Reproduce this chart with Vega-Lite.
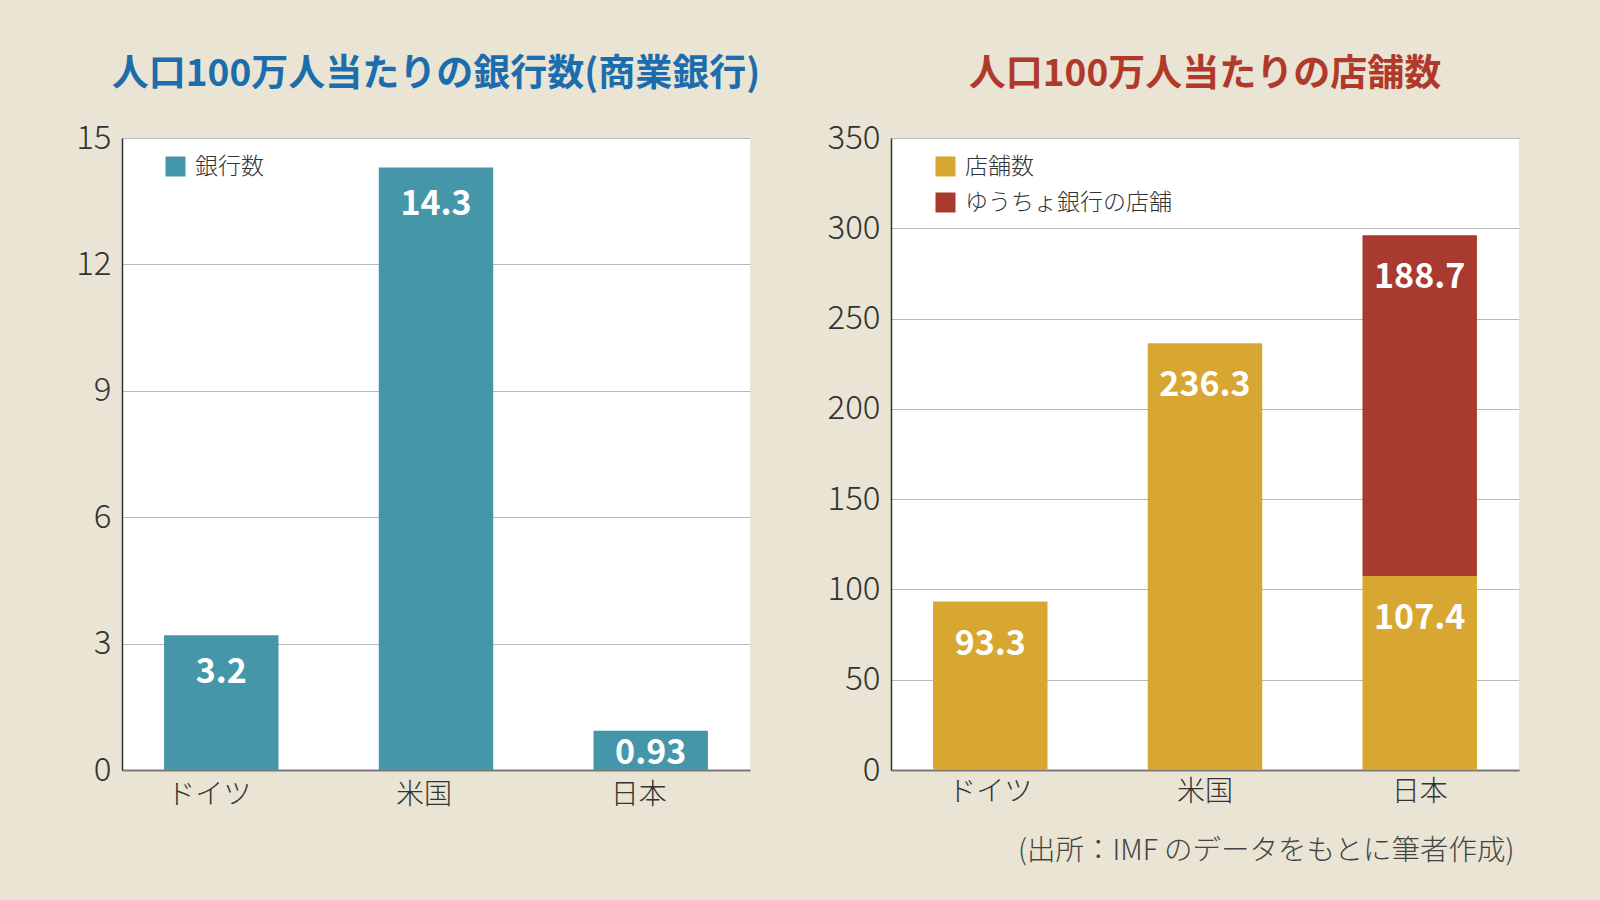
{
  "$schema": "https://vega.github.io/schema/vega-lite/v6.json",
  "autosize": {"type": "none"},
  "padding": {"left": 122, "top": 138, "right": 1478, "bottom": 762},
  "background": "#e9e4d3",
  "spacing": 141,
  "bounds": "flush",
  "resolve": {"scale": {"color": "independent", "y": "independent", "x": "independent"}, "legend": {"color": "independent"}},
  "config": {
    "font": "Noto Sans CJK JP",
    "view": {"fill": "#ffffff", "stroke": null},
    "axisY": {"grid": true, "gridColor": "#b8b8b8", "gridWidth": 1, "domainColor": "#333333", "domainWidth": 1.5, "ticks": false, "labelFontSize": 33, "labelFontWeight": 300, "labelColor": "#333333", "labelPadding": 11, "title": null, "labelFont": "Noto Sans CJK JP"},
    "axisX": {"grid": false, "ticks": false, "domainColor": "#7a7a7a", "domainWidth": 2, "labelFontSize": 28, "labelFontWeight": 300, "labelColor": "#333333", "labelPadding": 8, "labelAngle": 0, "labelFont": "Noto Sans CJK JP"},
    "legend": {"orient": "none", "title": null, "symbolType": "square", "symbolSize": 400, "symbolStrokeWidth": 0, "labelFontSize": 23, "labelFontWeight": 300, "labelColor": "#333333", "labelFont": "Noto Sans CJK JP", "labelLimit": 400, "rowPadding": 12, "labelOffset": 8},
    "title": {"font": "Noto Sans CJK JP", "fontWeight": "bold", "fontSize": 37, "anchor": "middle", "offset": 28}
  },
  "hconcat": [
    {
      "width": 628,
      "height": 632,
      "title": {"text": "人口100万人当たりの銀行数(商業銀行)", "color": "#1b6dad"},
      "data": {"values": [
        {"country": "ドイツ", "series": "銀行数", "value": 3.2, "label": "3.2"},
        {"country": "米国", "series": "銀行数", "value": 14.3, "label": "14.3"},
        {"country": "日本", "series": "銀行数", "value": 0.93, "label": "0.93"}
      ]},
      "encoding": {
        "x": {"field": "country", "type": "nominal", "sort": ["ドイツ", "米国", "日本"], "scale": {"paddingInner": 0.467, "paddingOuter": 0.196}, "axis": {"title": null, "labelOffset": -12, "labelPadding": 11}},
        "y": {"field": "value", "type": "quantitative", "scale": {"domain": [0, 15]}, "axis": {"values": [0, 3, 6, 9, 12, 15]}}
      },
      "layer": [
        {
          "mark": {"type": "bar"},
          "encoding": {
            "color": {"field": "series", "type": "nominal", "scale": {"domain": ["銀行数"], "range": ["#4596a8"]}, "legend": {"legendX": 42, "legendY": 17}}
          }
        },
        {
          "transform": [{"filter": "datum.value >= 2"}],
          "mark": {"type": "text", "color": "#ffffff", "fontSize": 34, "fontWeight": "bold", "baseline": "middle", "dy": 38, "font": "Noto Sans CJK JP"},
          "encoding": {"text": {"field": "label", "type": "nominal"}}
        },
        {
          "transform": [{"filter": "datum.value < 2"}],
          "mark": {"type": "text", "color": "#ffffff", "fontSize": 34, "fontWeight": "bold", "baseline": "middle", "dy": 23, "font": "Noto Sans CJK JP"},
          "encoding": {"text": {"field": "label", "type": "nominal"}}
        }
      ]
    },
    {
      "width": 628,
      "height": 632,
      "title": {"text": "人口100万人当たりの店舗数", "color": "#b0392b"},
      "data": {"values": [
        {"country": "ドイツ", "series": "店舗数", "ord": 1, "value": 93.3, "label": "93.3"},
        {"country": "米国", "series": "店舗数", "ord": 1, "value": 236.3, "label": "236.3"},
        {"country": "日本", "series": "店舗数", "ord": 1, "value": 107.4, "label": "107.4"},
        {"country": "日本", "series": "ゆうちょ銀行の店舗", "ord": 2, "value": 188.7, "label": "188.7"}
      ]},
      "encoding": {
        "x": {"field": "country", "type": "nominal", "sort": ["ドイツ", "米国", "日本"], "scale": {"paddingInner": 0.467, "paddingOuter": 0.196}, "axis": {"title": "(出所：IMF のデータをもとに筆者作成)", "titleFontSize": 28.5, "titleFontWeight": 300, "titleColor": "#444444", "titleFont": "Noto Sans CJK JP", "titleAnchor": "end", "titleAlign": "right", "titleBaseline": "middle", "titleX": 623, "titleY": 80}}
      },
      "layer": [
        {
          "mark": {"type": "bar"},
          "encoding": {
            "y": {"field": "value", "type": "quantitative", "stack": "zero", "scale": {"domain": [0, 350]}, "axis": {"values": [0, 50, 100, 150, 200, 250, 300, 350]}},
            "order": {"field": "ord", "type": "quantitative", "sort": "ascending"},
            "color": {"field": "series", "type": "nominal", "scale": {"domain": ["店舗数", "ゆうちょ銀行の店舗"], "range": ["#d7a731", "#a93a2f"]}, "legend": {"legendX": 43, "legendY": 17}}
          }
        },
        {
          "transform": [{"stack": "value", "groupby": ["country"], "sort": [{"field": "ord", "order": "ascending"}], "as": ["v0", "v1"]}],
          "mark": {"type": "text", "color": "#ffffff", "fontSize": 34, "fontWeight": "bold", "baseline": "middle", "dy": 43, "font": "Noto Sans CJK JP"},
          "encoding": {
            "y": {"field": "v1", "type": "quantitative"},
            "text": {"field": "label", "type": "nominal"}
          }
        }
      ]
    }
  ]
}
